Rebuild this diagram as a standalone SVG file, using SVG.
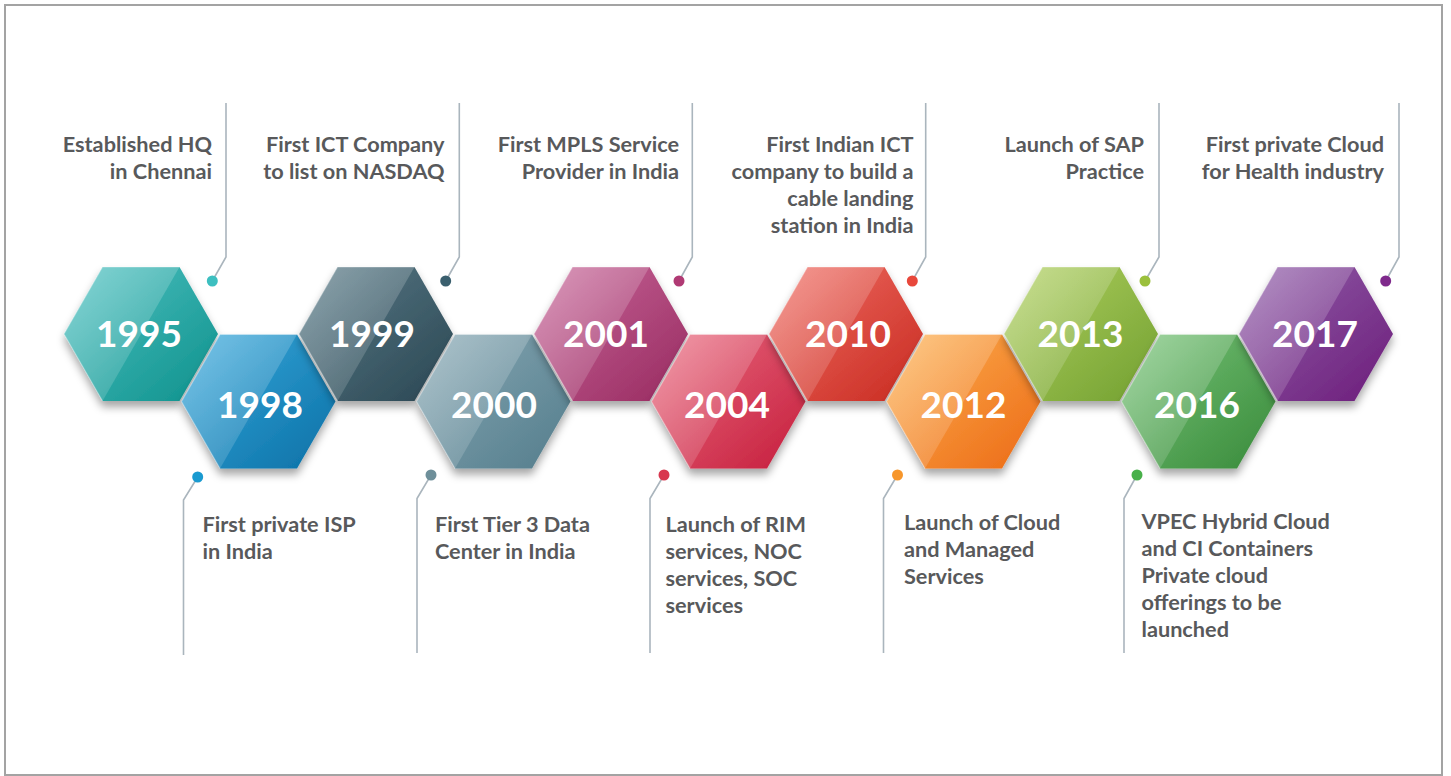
<svg xmlns="http://www.w3.org/2000/svg" width="1451" height="776" viewBox="0 0 1451 776">
<style>
.frame{fill:#fff;stroke:#a3a3a3;stroke-width:2}
.yr{font-family:Lato,"Open Sans","Liberation Sans",sans-serif;font-weight:700;font-size:37px;fill:#fff;text-anchor:middle}
.ds{font-family:Lato,"Open Sans","Liberation Sans",sans-serif;font-weight:700;font-size:21.7px;fill:#58595b}
.r{text-anchor:end}
.hl{fill:url(#ov)}
.ed{fill:none;stroke:#fff;stroke-opacity:.35;stroke-width:1.2}
.cn{fill:none;stroke:#aab5bd;stroke-width:1.6}
</style>
<defs>
<filter id="sh" x="-20%" y="-20%" width="140%" height="150%">
<feDropShadow dx="0" dy="6" stdDeviation="4" flood-color="#000" flood-opacity="0.35"/>
</filter>
<linearGradient id="ov" x1="0" y1="0" x2="1" y2="1">
<stop offset="0" stop-color="#fff" stop-opacity="0.32"/>
<stop offset="1" stop-color="#fff" stop-opacity="0.06"/>
</linearGradient>
<linearGradient id="g0" x1="0" y1="0" x2="1" y2="1"><stop offset="0" stop-color="#4fc2c2"/><stop offset="1" stop-color="#0e918c"/></linearGradient>
<linearGradient id="g1" x1="0" y1="0" x2="1" y2="1"><stop offset="0" stop-color="#3aaadd"/><stop offset="1" stop-color="#0a70a6"/></linearGradient>
<linearGradient id="g2" x1="0" y1="0" x2="1" y2="1"><stop offset="0" stop-color="#5a7b88"/><stop offset="1" stop-color="#2a4652"/></linearGradient>
<linearGradient id="g3" x1="0" y1="0" x2="1" y2="1"><stop offset="0" stop-color="#87a8b4"/><stop offset="1" stop-color="#547d8c"/></linearGradient>
<linearGradient id="g4" x1="0" y1="0" x2="1" y2="1"><stop offset="0" stop-color="#c8689a"/><stop offset="1" stop-color="#982a60"/></linearGradient>
<linearGradient id="g5" x1="0" y1="0" x2="1" y2="1"><stop offset="0" stop-color="#ea6b80"/><stop offset="1" stop-color="#c51d3c"/></linearGradient>
<linearGradient id="g6" x1="0" y1="0" x2="1" y2="1"><stop offset="0" stop-color="#f06e64"/><stop offset="1" stop-color="#c82a20"/></linearGradient>
<linearGradient id="g7" x1="0" y1="0" x2="1" y2="1"><stop offset="0" stop-color="#fdb150"/><stop offset="1" stop-color="#ec6a16"/></linearGradient>
<linearGradient id="g8" x1="0" y1="0" x2="1" y2="1"><stop offset="0" stop-color="#b0d060"/><stop offset="1" stop-color="#72a030"/></linearGradient>
<linearGradient id="g9" x1="0" y1="0" x2="1" y2="1"><stop offset="0" stop-color="#78c478"/><stop offset="1" stop-color="#388a3a"/></linearGradient>
<linearGradient id="g10" x1="0" y1="0" x2="1" y2="1"><stop offset="0" stop-color="#9160aa"/><stop offset="1" stop-color="#6c1c7a"/></linearGradient>
<polygon id="hex" points="-77,0 -38.5,-67 38.5,-67 77,0 38.5,67 -38.5,67"/>
<polygon id="half" points="-77,0 -38.5,-67 38.5,-67 -38.5,67"/>
<polyline id="edge" points="-38.5,67 -77,0 -38.5,-67 38.5,-67"/>
</defs>

<rect class="frame" x="5" y="5" width="1437" height="770"/>

<g id="connectors">
<path class="cn" d="M226,103V257L212.3,281"/>
<path class="cn" d="M459.3,103V257L445.7,281"/>
<path class="cn" d="M692.3,103V257L679,281"/>
<path class="cn" d="M925.7,103V257L912.3,281"/>
<path class="cn" d="M1159,103V257L1145,281"/>
<path class="cn" d="M1399,103V257L1385.7,281"/>
<path class="cn" d="M197.7,477L183.5,500V655"/>
<path class="cn" d="M431,475L417,498.5V653"/>
<path class="cn" d="M664,475L650,498.5V653"/>
<path class="cn" d="M897.5,475L883.5,498.5V653"/>
<path class="cn" d="M1137,475L1124,498.5V653"/>
<circle cx="212.3" cy="281" r="5.5" fill="#3dbfc0"/>
<circle cx="445.7" cy="281" r="5.5" fill="#3a5f6e"/>
<circle cx="679" cy="281" r="5.5" fill="#b03a74"/>
<circle cx="912.3" cy="281" r="5.5" fill="#e8473b"/>
<circle cx="1145" cy="281" r="5.5" fill="#9bc03c"/>
<circle cx="1385.7" cy="281" r="5.5" fill="#7f2a8c"/>
<circle cx="197.7" cy="477" r="5.5" fill="#1a9ad0"/>
<circle cx="431" cy="475" r="5.5" fill="#6e8f9a"/>
<circle cx="664" cy="475" r="5.5" fill="#d8384f"/>
<circle cx="897.5" cy="475" r="5.5" fill="#f7962b"/>
<circle cx="1137" cy="475" r="5.5" fill="#48b04a"/>
</g>

<g id="n1995">
<g transform="translate(141,334)"><use href="#hex" fill="url(#g0)" filter="url(#sh)"/><use href="#half" class="hl"/><use href="#edge" class="ed"/><text class="yr" x="-2" y="12.5">1995</text></g>
<text class="ds r" x="212" y="152">Established HQ</text>
<text class="ds r" x="212" y="179">in Chennai</text>
</g>
<g id="n1998">
<g transform="translate(258.5,401.5)"><use href="#hex" fill="url(#g1)" filter="url(#sh)"/><use href="#half" class="hl"/><use href="#edge" class="ed"/><text class="yr" x="1.5" y="16.5">1998</text></g>
<text class="ds" x="202.5" y="532">First private ISP</text>
<text class="ds" x="202.5" y="559">in India</text>
</g>
<g id="n1999">
<g transform="translate(376,334)"><use href="#hex" fill="url(#g2)" filter="url(#sh)"/><use href="#half" class="hl"/><use href="#edge" class="ed"/><text class="yr" x="-4" y="12.5">1999</text></g>
<text class="ds r" x="444.5" y="152">First ICT Company</text>
<text class="ds r" x="444.5" y="179">to list on NASDAQ</text>
</g>
<g id="n2000">
<g transform="translate(493.5,401.5)"><use href="#hex" fill="url(#g3)" filter="url(#sh)"/><use href="#half" class="hl"/><use href="#edge" class="ed"/><text class="yr" x="0.5" y="16.5">2000</text></g>
<text class="ds" x="435" y="532">First Tier 3 Data</text>
<text class="ds" x="435" y="559">Center in India</text>
</g>
<g id="n2001">
<g transform="translate(611,334)"><use href="#hex" fill="url(#g4)" filter="url(#sh)"/><use href="#half" class="hl"/><use href="#edge" class="ed"/><text class="yr" x="-5" y="12.5">2001</text></g>
<text class="ds r" x="679" y="152">First MPLS Service</text>
<text class="ds r" x="679" y="179">Provider in India</text>
</g>
<g id="n2004">
<g transform="translate(728.5,401.5)"><use href="#hex" fill="url(#g5)" filter="url(#sh)"/><use href="#half" class="hl"/><use href="#edge" class="ed"/><text class="yr" x="-1.5" y="16.5">2004</text></g>
<text class="ds" x="665.5" y="532">Launch of RIM</text>
<text class="ds" x="665.5" y="559">services, NOC</text>
<text class="ds" x="665.5" y="586">services, SOC</text>
<text class="ds" x="665.5" y="613">services</text>
</g>
<g id="n2010">
<g transform="translate(846,334)"><use href="#hex" fill="url(#g6)" filter="url(#sh)"/><use href="#half" class="hl"/><use href="#edge" class="ed"/><text class="yr" x="2" y="12.5">2010</text></g>
<text class="ds r" x="913.5" y="152">First Indian ICT</text>
<text class="ds r" x="913.5" y="179">company to build a</text>
<text class="ds r" x="913.5" y="206">cable landing</text>
<text class="ds r" x="913.5" y="233">station in India</text>
</g>
<g id="n2012">
<g transform="translate(963.5,401.5)"><use href="#hex" fill="url(#g7)" filter="url(#sh)"/><use href="#half" class="hl"/><use href="#edge" class="ed"/><text class="yr" x="0" y="16.5">2012</text></g>
<text class="ds" x="904" y="530">Launch of Cloud</text>
<text class="ds" x="904" y="557">and Managed</text>
<text class="ds" x="904" y="584">Services</text>
</g>
<g id="n2013">
<g transform="translate(1081,334)"><use href="#hex" fill="url(#g8)" filter="url(#sh)"/><use href="#half" class="hl"/><use href="#edge" class="ed"/><text class="yr" x="-0.5" y="12.5">2013</text></g>
<text class="ds r" x="1144" y="152">Launch of SAP</text>
<text class="ds r" x="1144" y="179">Practice</text>
</g>
<g id="n2016">
<g transform="translate(1198.5,401.5)"><use href="#hex" fill="url(#g9)" filter="url(#sh)"/><use href="#half" class="hl"/><use href="#edge" class="ed"/><text class="yr" x="-1.5" y="16.5">2016</text></g>
<text class="ds" x="1141.5" y="528.5">VPEC Hybrid Cloud</text>
<text class="ds" x="1141.5" y="555.5">and CI Containers</text>
<text class="ds" x="1141.5" y="582.5">Private cloud</text>
<text class="ds" x="1141.5" y="609.5">offerings to be</text>
<text class="ds" x="1141.5" y="636.5">launched</text>
</g>
<g id="n2017">
<g transform="translate(1316,334)"><use href="#hex" fill="url(#g10)" filter="url(#sh)"/><use href="#half" class="hl"/><use href="#edge" class="ed"/><text class="yr" x="-1" y="12.5">2017</text></g>
<text class="ds r" x="1384" y="152">First private Cloud</text>
<text class="ds r" x="1384" y="179">for Health industry</text>
</g>
</svg>
